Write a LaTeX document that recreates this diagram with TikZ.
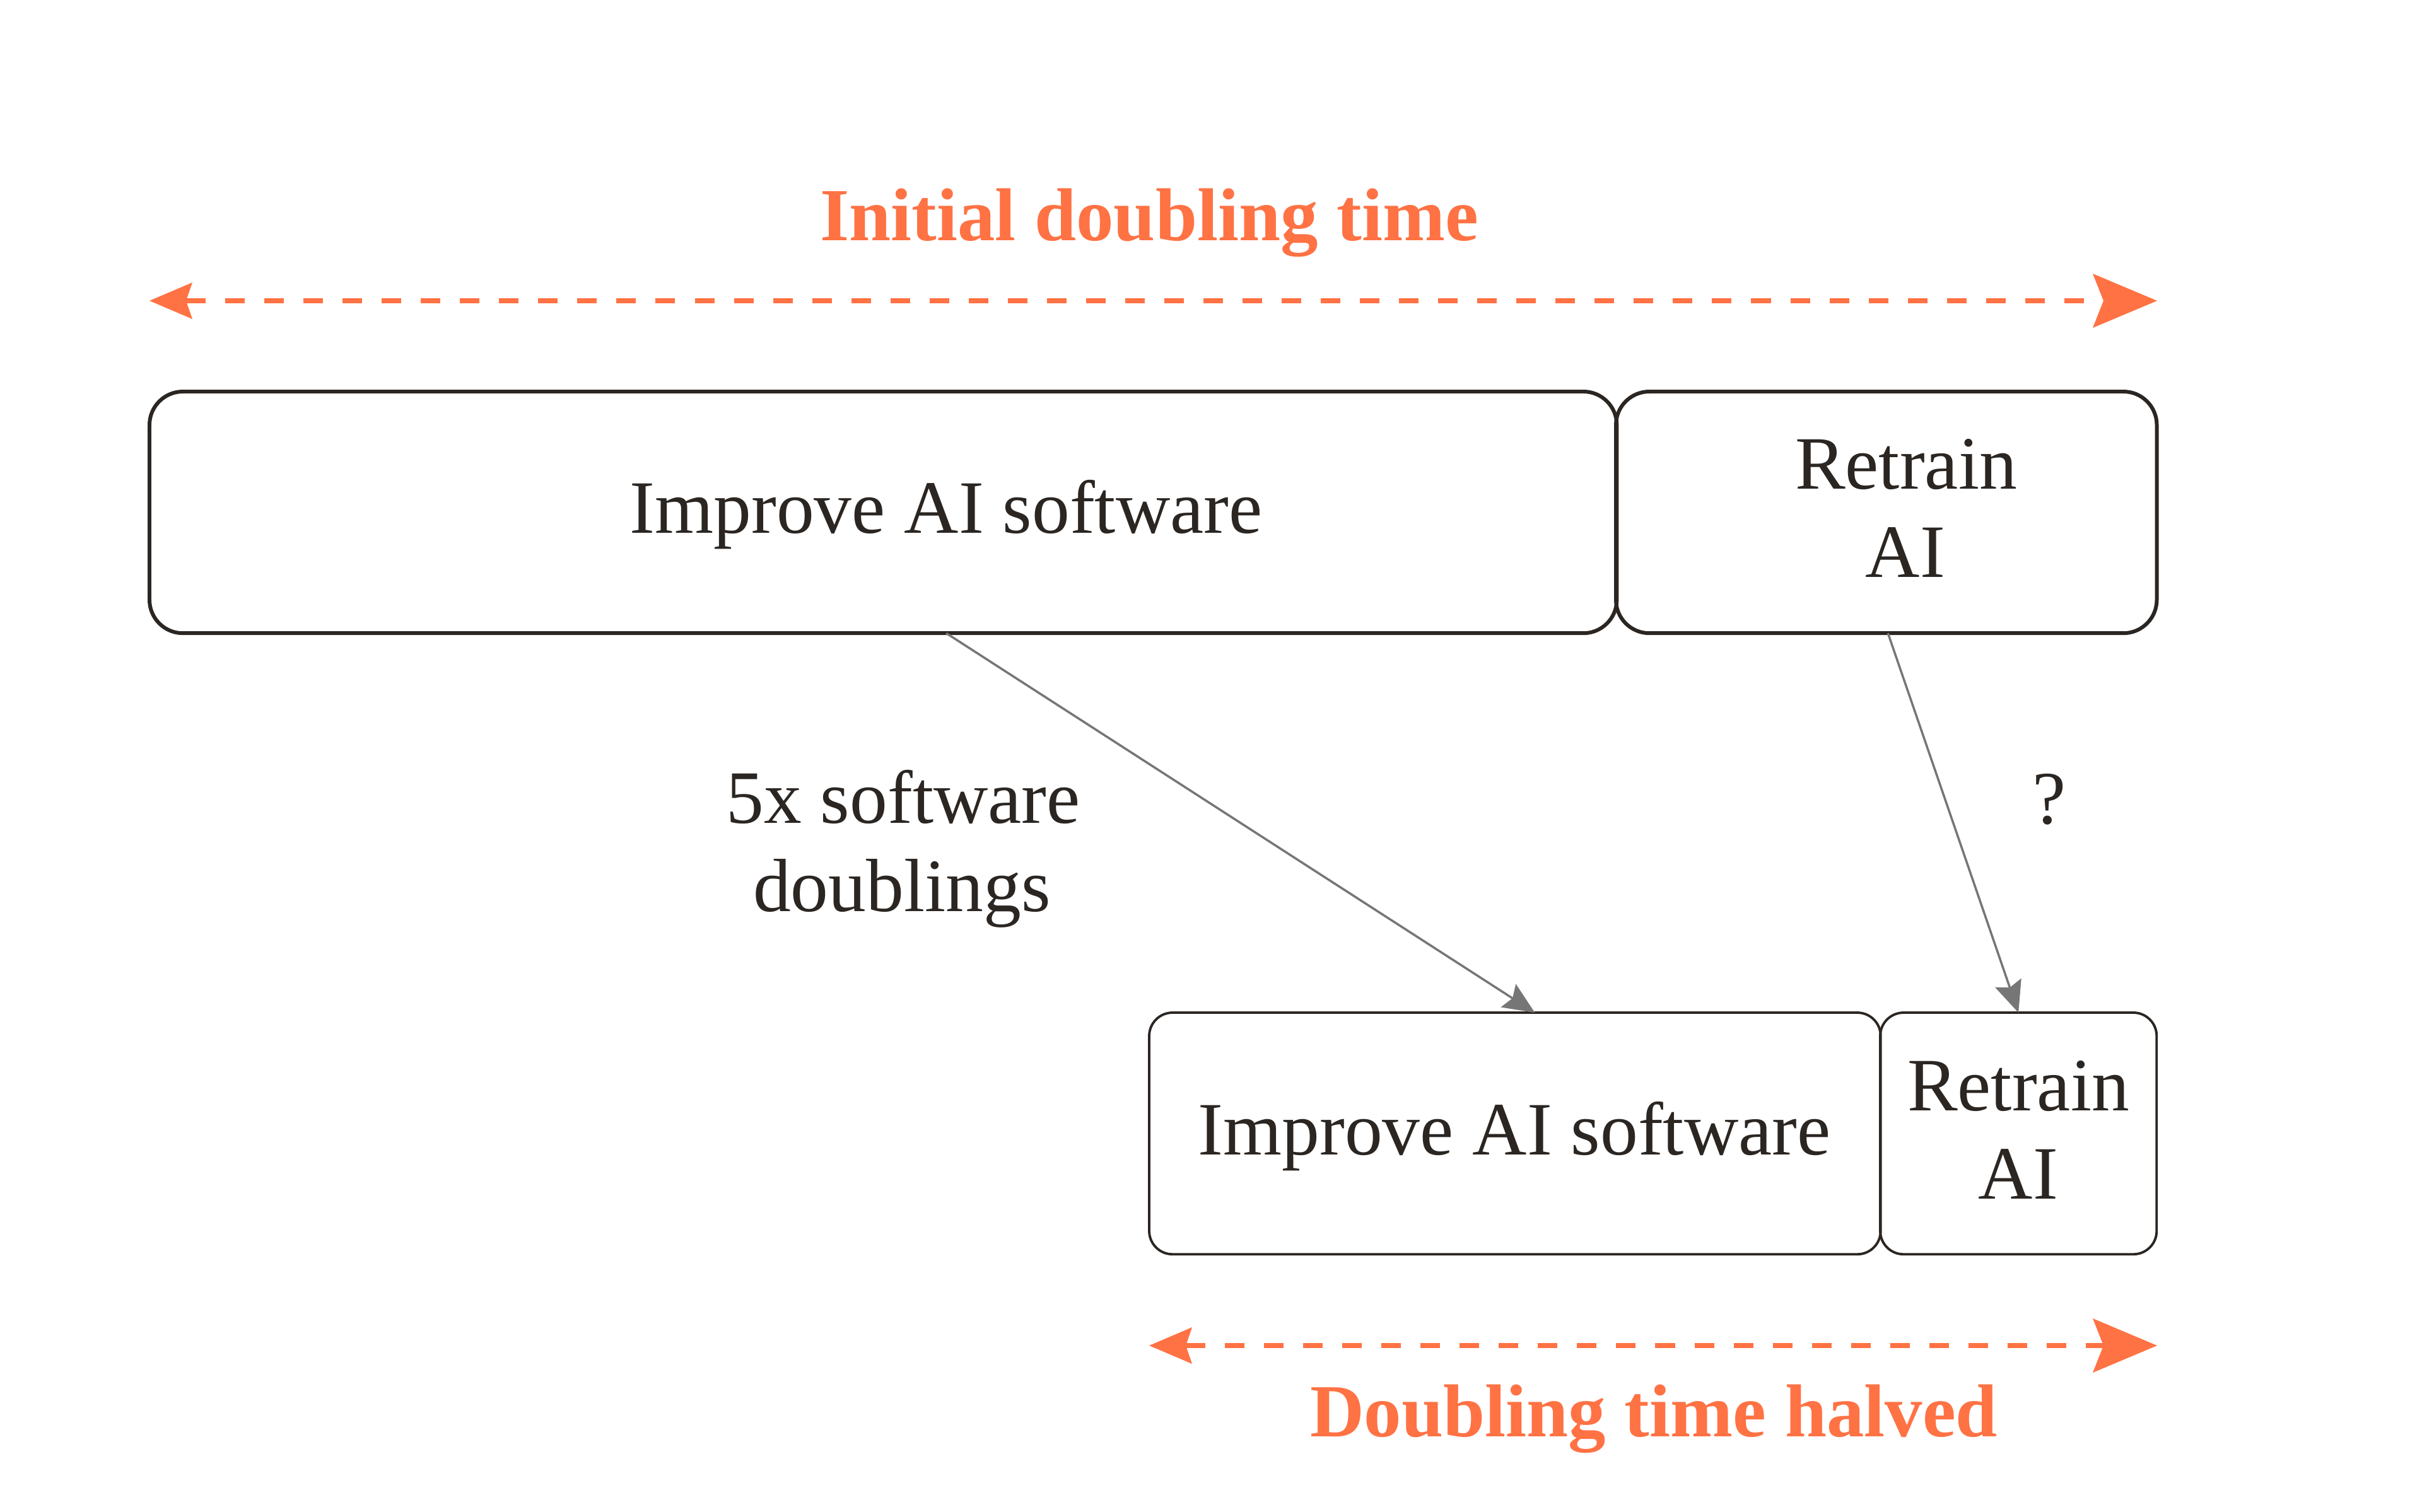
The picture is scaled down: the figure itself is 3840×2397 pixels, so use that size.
\documentclass[tikz,border=0pt]{standalone}
\usepackage{fontspec}
\setmainfont{Liberation Serif}
\usetikzlibrary{arrows.meta,calc}
\definecolor{accent}{RGB}{255,114,68}
\definecolor{ink}{RGB}{43,38,34}
\definecolor{conn}{RGB}{118,118,118}
\tikzset{
  bigbox/.style={draw=ink, line width=1.7pt, rounded corners=0.53cm, inner sep=0pt, outer sep=0pt, anchor=north west, minimum height=3.83cm},
  smallbox/.style={draw=ink, line width=1.1pt, rounded corners=0.37cm, inner sep=0pt, outer sep=0pt, anchor=north west, minimum height=3.83cm},
  lbl/.style={text=ink, font=\fontsize{34}{40}\selectfont, inner sep=0pt, anchor=base},
  ttl/.style={text=accent, font=\fontsize{33.8}{40}\selectfont\bfseries, inner sep=0pt, anchor=base},
  span/.style={draw=accent, line width=2.3pt, dash pattern=on 0.31cm off 0.31cm,
    {Stealth[length=0.68cm, width=0.58cm, inset=0.1cm, line width=0pt, fill=accent]}-{Stealth[length=1.02cm, width=0.86cm, inset=0.17cm, line width=0pt, fill=accent]}},
  conn/.style={draw=conn, line width=1pt, -{Stealth[length=0.5cm, width=0.44cm, inset=0.08cm, line width=0pt, fill=conn]}}
}
\begin{document}
\begin{tikzpicture}[x=0.01cm, y=-0.01cm]
\useasboundingbox (0,0) rectangle (3840,2397);
% top row
\node[bigbox, minimum width=23.25cm] (imp1) at (237,621) {};
\node[bigbox, minimum width=8.57cm] (ret1) at (2562,621) {};
% bottom row
\node[smallbox, minimum width=11.59cm] (imp2) at (1822,1606) {};
\node[smallbox, minimum width=4.38cm] (ret2) at (2981,1606) {};
% texts in boxes
\node[lbl] (imp1t) at (1500,845) {Improve AI software};
\node[lbl] (ret1a) at (3022,775) {Retrain};
\node[lbl] (ret1b) at (3021,915) {AI};
\node[lbl] (imp2t) at (2401,1831) {Improve AI software};
\node[lbl] (ret2a) at (3200,1761) {Retrain};
\node[lbl] (ret2b) at (3200,1901) {AI};
% side labels
\node[lbl] (dbl1) at (1432,1305) {5x software};
\node[lbl] (dbl2) at (1430,1445) {doublings};
\node[lbl] (q) at (3249,1306) {?};
% titles
\node[ttl] (t1) at (1822,381) {Initial doubling time};
\node[ttl] (t2) at (2622,2278) {Doubling time halved};
% span arrows
\coordinate (s1l) at (237,477);
\coordinate (s1r) at (3420,477);
\coordinate (s2l) at (1822,2134);
\coordinate (s2r) at (3420,2134);
\draw[span] (s1l) -- (s1r);
\draw[span] (s2l) -- (s2r);
% connectors
\draw[conn] ([xshift=1cm]imp1.south) -- ([xshift=0.315cm]imp2.north);
\draw[conn] ([xshift=0.025cm]ret1.south) -- (ret2.north);
\end{tikzpicture}
\end{document}
